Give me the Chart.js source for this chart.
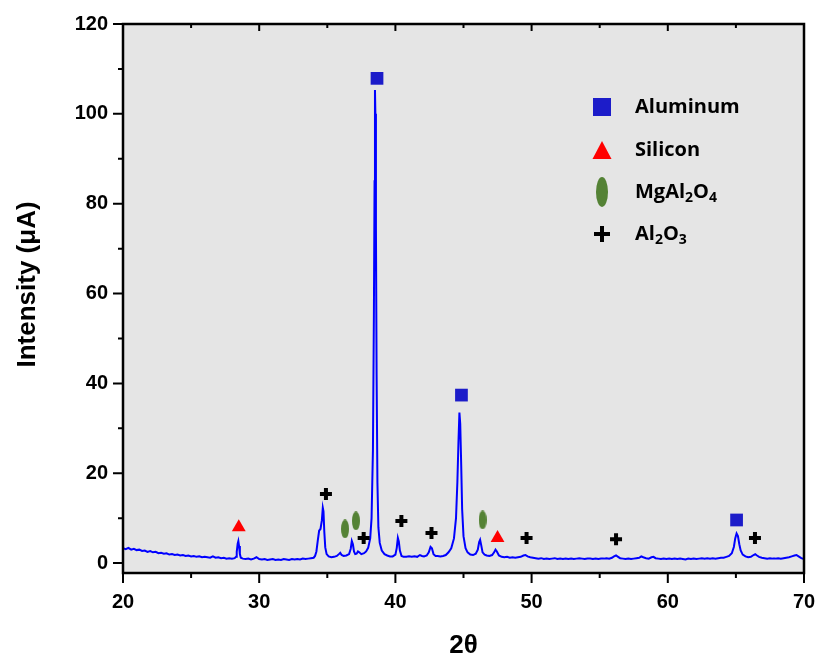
<!DOCTYPE html>
<html>
<head>
<meta charset="utf-8">
<script src="https://cdn.jsdelivr.net/npm/chart.js@4.4.1/dist/chart.umd.min.js"></script>
<style>
  body { margin: 0; background: #ffffff; }
  canvas { display: block; }
</style>
</head>
<body>
<canvas id="xrdChart" width="818" height="660"></canvas>
<script>
// Measured scan: [2θ, intensity in µA]
const xrdScan = [
  [20.0, 3.3], [20.2, 3.1], [20.4, 3.4], [20.6, 3.0], [20.8, 3.2], [21.0, 2.9], [21.2, 3.0], [21.4, 2.7],
  [21.6, 2.8], [21.8, 2.5], [22.0, 2.7], [22.2, 2.4], [22.4, 2.5], [22.6, 2.2], [22.8, 2.3], [23.0, 2.1],
  [23.2, 2.2], [23.4, 1.9], [23.6, 2.0], [23.8, 1.8], [24.0, 1.9], [24.2, 1.7], [24.4, 1.8], [24.6, 1.6],
  [24.8, 1.7], [25.0, 1.5], [25.2, 1.6], [25.4, 1.4], [25.6, 1.5], [25.8, 1.3], [26.0, 1.4], [26.2, 1.3],
  [26.4, 1.2], [26.6, 1.5], [26.8, 1.2], [27.0, 1.3], [27.2, 1.1], [27.4, 1.2], [27.6, 1.0], [27.8, 1.1],
  [28.0, 1.0], [28.2, 1.1], [28.3, 1.4], [28.35, 2.5], [28.42, 4.3], [28.47, 4.9], [28.52, 3.8], [28.58, 2.0],
  [28.65, 1.2], [28.8, 1.0], [29.0, 0.9], [29.2, 1.0], [29.4, 0.8], [29.6, 1.0], [29.8, 1.3], [30.0, 0.9],
  [30.2, 0.8], [30.4, 0.9], [30.6, 0.7], [30.8, 0.8], [31.0, 0.9], [31.2, 0.7], [31.4, 0.8], [31.6, 0.7],
  [31.8, 0.9], [32.0, 0.8], [32.2, 0.7], [32.4, 0.9], [32.6, 0.8], [32.8, 0.9], [33.0, 0.8], [33.2, 1.0],
  [33.4, 0.9], [33.6, 1.0], [33.8, 1.1], [34.0, 1.2], [34.1, 1.6], [34.2, 2.6], [34.3, 5.0], [34.4, 7.2],
  [34.5, 7.6], [34.6, 9.5], [34.67, 12.3], [34.72, 11.5], [34.78, 7.0], [34.85, 3.5], [34.95, 2.0], [35.1, 1.5],
  [35.3, 1.3], [35.5, 1.4], [35.7, 1.6], [35.85, 2.0], [35.95, 2.3], [36.05, 1.8], [36.2, 1.6], [36.4, 1.7],
  [36.6, 2.0], [36.72, 3.2], [36.8, 4.9], [36.88, 4.2], [36.96, 2.6], [37.05, 2.0], [37.15, 2.1], [37.25, 2.6],
  [37.35, 2.4], [37.5, 2.0], [37.7, 2.2], [37.85, 2.6], [38.0, 3.4], [38.15, 5.5], [38.25, 10.0], [38.35, 25.0],
  [38.42, 55.0], [38.47, 85.0], [38.5, 105.3], [38.53, 100.0], [38.57, 75.0], [38.62, 42.0], [38.68, 18.0], [38.75, 8.0],
  [38.85, 4.5], [39.0, 2.8], [39.2, 2.0], [39.4, 1.7], [39.6, 1.5], [39.8, 1.5], [40.0, 1.9], [40.1, 3.4],
  [40.18, 5.6], [40.25, 4.8], [40.33, 2.8], [40.45, 1.6], [40.6, 1.4], [40.8, 1.4], [41.0, 1.5], [41.2, 1.4],
  [41.4, 1.5], [41.6, 1.4], [41.8, 1.8], [41.95, 1.6], [42.1, 1.5], [42.3, 1.7], [42.45, 2.4], [42.58, 3.6],
  [42.68, 3.3], [42.8, 2.0], [42.95, 1.6], [43.1, 1.6], [43.3, 1.5], [43.5, 1.6], [43.7, 1.8], [43.9, 2.4],
  [44.1, 3.3], [44.3, 5.5], [44.45, 10.0], [44.55, 18.0], [44.63, 27.0], [44.7, 33.5], [44.76, 31.0], [44.83, 22.0],
  [44.9, 12.0], [45.0, 6.0], [45.15, 3.3], [45.3, 2.4], [45.5, 1.9], [45.7, 1.8], [45.9, 2.1], [46.05, 3.0],
  [46.15, 4.7], [46.22, 5.2], [46.3, 4.0], [46.4, 2.4], [46.55, 1.9], [46.7, 1.7], [46.9, 1.6], [47.1, 1.8],
  [47.25, 2.4], [47.35, 3.0], [47.45, 2.6], [47.6, 1.7], [47.8, 1.4], [48.0, 1.3], [48.2, 1.4], [48.4, 1.2],
  [48.6, 1.3], [48.8, 1.2], [49.0, 1.3], [49.2, 1.4], [49.4, 1.7], [49.55, 1.8], [49.7, 1.5], [49.9, 1.3],
  [50.1, 1.2], [50.3, 1.1], [50.5, 1.0], [50.7, 1.1], [50.9, 0.9], [51.1, 1.0], [51.3, 0.9], [51.5, 1.0],
  [51.7, 1.1], [51.9, 0.9], [52.1, 1.0], [52.3, 0.9], [52.5, 1.0], [52.7, 0.9], [52.9, 1.0], [53.1, 0.9],
  [53.3, 1.0], [53.5, 1.1], [53.7, 1.0], [53.9, 0.9], [54.1, 1.0], [54.3, 1.0], [54.5, 0.9], [54.7, 1.0],
  [54.9, 0.9], [55.1, 1.0], [55.3, 1.0], [55.5, 1.1], [55.7, 1.0], [55.9, 1.2], [56.05, 1.5], [56.2, 1.7],
  [56.35, 1.4], [56.5, 1.1], [56.7, 1.0], [56.9, 0.9], [57.1, 1.0], [57.3, 0.9], [57.5, 1.0], [57.7, 1.1],
  [57.9, 1.2], [58.05, 1.5], [58.2, 1.3], [58.4, 1.1], [58.6, 1.0], [58.8, 1.3], [58.95, 1.4], [59.1, 1.1],
  [59.3, 1.0], [59.5, 0.9], [59.7, 1.0], [59.9, 0.9], [60.1, 1.0], [60.3, 0.9], [60.5, 1.0], [60.7, 0.9],
  [60.9, 1.0], [61.1, 0.9], [61.3, 0.8], [61.5, 1.0], [61.7, 0.9], [61.9, 1.0], [62.1, 0.9], [62.3, 1.0],
  [62.5, 1.1], [62.7, 1.0], [62.9, 1.1], [63.1, 1.0], [63.3, 1.1], [63.5, 1.0], [63.7, 1.1], [63.9, 1.2],
  [64.1, 1.2], [64.3, 1.4], [64.5, 1.6], [64.7, 2.2], [64.85, 3.6], [64.95, 5.5], [65.05, 6.6], [65.15, 6.0],
  [65.25, 4.2], [65.35, 2.8], [65.5, 1.9], [65.7, 1.5], [65.9, 1.3], [66.1, 1.4], [66.3, 1.8], [66.42, 2.0],
  [66.55, 1.7], [66.7, 1.4], [66.9, 1.2], [67.1, 1.1], [67.3, 1.0], [67.5, 1.1], [67.7, 1.0], [67.9, 1.0],
  [68.1, 1.1], [68.3, 1.0], [68.5, 1.1], [68.7, 1.2], [68.9, 1.3], [69.1, 1.5], [69.3, 1.7], [69.45, 1.8],
  [69.6, 1.5], [69.8, 1.1], [70.0, 0.9]
];

// Phase markers placed above the indexed reflections
const aluminumAngles = [38.65, 44.85, 65.05];
const aluminumMarks = [107.9, 37.4, 9.6];
const siliconAngles = [28.5, 47.5];
const siliconMarks = [8.0, 5.6];
const spinelAngles = [36.3, 37.1, 46.4];
const spinelMarks = [7.6, 9.4, 9.6];
const aluminaAngles = [34.9, 37.67, 40.44, 42.65, 49.63, 56.2, 66.4];
const aluminaMarks = [15.4, 5.6, 9.4, 6.7, 5.6, 5.3, 5.6];

// Axis ticks
const xTickValues = [20, 30, 40, 50, 60, 70];
const xMinorTicks = [25, 35, 45, 55, 65];
const yTickValues = [0, 20, 40, 60, 80, 100, 120];
const yMinorTicks = [10, 30, 50, 70, 90, 110];

const toPoints = (xs, ys) => xs.map((x, i) => ({ x: x, y: ys[i] }));

// small upright ellipse used as the spinel point style
function makeEllipse(w, h, color) {
    const c = document.createElement('canvas');
    c.width = w;
    c.height = h;
    const g = c.getContext('2d');
    g.fillStyle = color;
    g.beginPath();
    g.ellipse(w / 2, h / 2, w / 2, h / 2, 0, 0, Math.PI * 2);
    g.fill();
    return c;
}

const GREEN = '#548235';
const BLUE_MARK = '#1c1cc9';
const AXIS_FONT = '"Liberation Sans", Arial';

// grey plot background
const plotBackground = {
    id: 'plotBackground',
    beforeDraw(chart) {
        const { ctx, chartArea: a } = chart;
        ctx.save();
        ctx.fillStyle = '#e5e5e5';
        ctx.fillRect(a.left, a.top, a.right - a.left, a.bottom - a.top);
        ctx.restore();
    }
};

// box frame with major/minor ticks, plus the y title
const frameTicks = {
    id: 'frameTicks',
    afterDatasetsDraw(chart) {
        const { ctx, chartArea: a, scales } = chart;
        const xs = scales.x, ys = scales.y;
        ctx.save();
        ctx.strokeStyle = '#000';
        ctx.lineWidth = 2.5;
        ctx.strokeRect(a.left, a.top, a.right - a.left, a.bottom - a.top);
        ctx.lineWidth = 2;
        ctx.beginPath();
        xTickValues.forEach(v => {
            const px = xs.getPixelForValue(v);
            ctx.moveTo(px, a.bottom); ctx.lineTo(px, a.bottom + 10);
            ctx.moveTo(px, a.top); ctx.lineTo(px, a.top + 7);
        });
        xMinorTicks.forEach(v => {
            const px = xs.getPixelForValue(v);
            ctx.moveTo(px, a.bottom); ctx.lineTo(px, a.bottom + 5);
            ctx.moveTo(px, a.top); ctx.lineTo(px, a.top + 4);
        });
        yTickValues.forEach(v => {
            const py = ys.getPixelForValue(v);
            ctx.moveTo(a.left, py); ctx.lineTo(a.left - 10, py);
        });
        yMinorTicks.forEach(v => {
            const py = ys.getPixelForValue(v);
            ctx.moveTo(a.left, py); ctx.lineTo(a.left - 5, py);
        });
        ctx.stroke();

        // y axis title, sits a little above the axis centre
        ctx.translate(28, (a.top + a.bottom) / 2 - 14);
        ctx.rotate(-Math.PI / 2);
        ctx.fillStyle = '#000';
        ctx.font = 'bold 26px ' + AXIS_FONT;
        ctx.textAlign = 'center';
        ctx.textBaseline = 'middle';
        ctx.fillText('Intensity (μA)', 0, 0);
        ctx.restore();
    }
};

// text with digits set as subscripts (chemical formulas)
function drawFormula(ctx, text, x, y) {
    let cx = x;
    text.split(/(\d+)/).forEach((part, i) => {
        if (!part) return;
        const sub = i % 2 === 1;
        ctx.font = sub ? 'bold 14px "Open Sans"' : 'bold 20px "Open Sans"';
        ctx.fillText(part, cx, sub ? y + 6 : y);
        cx += ctx.measureText(part).width;
    });
}

// legend in the upper right of the plot
const phaseLegend = {
    id: 'phaseLegend',
    afterDraw(chart) {
        const { ctx, chartArea: a } = chart;
        const mx = a.left + 479;
        const tx = a.left + 512;
        const rows = [a.top + 83, a.top + 126, a.top + 168, a.top + 210];
        const labels = chart.data.datasets.slice(0, 4).map(d => d.label);
        ctx.save();
        // square
        ctx.fillStyle = BLUE_MARK;
        ctx.fillRect(mx - 9, rows[0] - 9, 18, 18);
        // triangle
        ctx.fillStyle = '#ff0000';
        ctx.beginPath();
        ctx.moveTo(mx, rows[1] - 9);
        ctx.lineTo(mx + 9.5, rows[1] + 9);
        ctx.lineTo(mx - 9.5, rows[1] + 9);
        ctx.closePath();
        ctx.fill();
        // ellipse
        ctx.fillStyle = GREEN;
        ctx.beginPath();
        ctx.ellipse(mx, rows[2], 6, 15, 0, 0, Math.PI * 2);
        ctx.fill();
        // cross
        ctx.strokeStyle = '#000';
        ctx.lineWidth = 4;
        ctx.beginPath();
        ctx.moveTo(mx - 8, rows[3]); ctx.lineTo(mx + 8, rows[3]);
        ctx.moveTo(mx, rows[3] - 8); ctx.lineTo(mx, rows[3] + 8);
        ctx.stroke();

        ctx.fillStyle = '#000';
        ctx.textBaseline = 'middle';
        ctx.textAlign = 'left';
        labels.forEach((lab, i) => drawFormula(ctx, lab, tx, rows[i]));
        ctx.restore();
    }
};

new Chart(document.getElementById('xrdChart'), {
    type: 'scatter',
    data: {
        datasets: [
            {
                label: 'Aluminum',
                data: toPoints(aluminumAngles, aluminumMarks),
                pointStyle: 'rect',
                pointRadius: 9,
                backgroundColor: BLUE_MARK,
                borderColor: BLUE_MARK,
                borderWidth: 0
            },
            {
                label: 'Silicon',
                data: toPoints(siliconAngles, siliconMarks),
                pointStyle: 'triangle',
                pointRadius: 8,
                backgroundColor: '#ff0000',
                borderColor: '#ff0000',
                borderWidth: 0
            },
            {
                label: 'MgAl2O4',
                data: toPoints(spinelAngles, spinelMarks),
                pointStyle: makeEllipse(8, 19, GREEN),
                pointRadius: 9
            },
            {
                label: 'Al2O3',
                data: toPoints(aluminaAngles, aluminaMarks),
                pointStyle: 'cross',
                pointRadius: 6,
                borderColor: '#000',
                borderWidth: 4
            },
            {
                label: 'scan',
                data: xrdScan.map(p => ({ x: p[0], y: p[1] })),
                showLine: true,
                borderColor: '#0000ff',
                borderWidth: 2,
                pointRadius: 0,
                tension: 0
            }
        ]
    },
    options: {
        responsive: false,
        animation: false,
        devicePixelRatio: 1,
        layout: { padding: { top: 24, right: 14, left: 0, bottom: 0 } },
        plugins: {
            legend: { display: false },
            tooltip: { enabled: false }
        },
        scales: {
            x: {
                type: 'linear',
                min: 20,
                max: 70,
                grid: { display: false, drawTicks: false },
                border: { display: false },
                afterBuildTicks(scale) {
                    scale.ticks = xTickValues.map(v => ({ value: v }));
                },
                afterFit(scale) {
                    scale.height = 87;
                    scale.paddingLeft = 0;
                    scale.paddingRight = 0;
                },
                ticks: {
                    color: '#000',
                    padding: 17,
                    font: { family: AXIS_FONT, size: 20, weight: 'bold' }
                },
                title: {
                    display: true,
                    text: '2θ',
                    color: '#000',
                    padding: { top: 0, bottom: -1 },
                    font: { family: AXIS_FONT, size: 26, weight: 'bold' }
                }
            },
            y: {
                type: 'linear',
                min: -2.2,
                max: 120,
                grid: { display: false, drawTicks: false },
                border: { display: false },
                afterBuildTicks(scale) {
                    scale.ticks = yTickValues.map(v => ({ value: v }));
                },
                afterFit(scale) {
                    scale.width = 123;
                    scale.paddingTop = 0;
                    scale.paddingBottom = 0;
                },
                ticks: {
                    color: '#000',
                    padding: 15,
                    font: { family: AXIS_FONT, size: 20, weight: 'bold' }
                }
            }
        }
    },
    plugins: [plotBackground, frameTicks, phaseLegend]
});
</script>
</body>
</html>
